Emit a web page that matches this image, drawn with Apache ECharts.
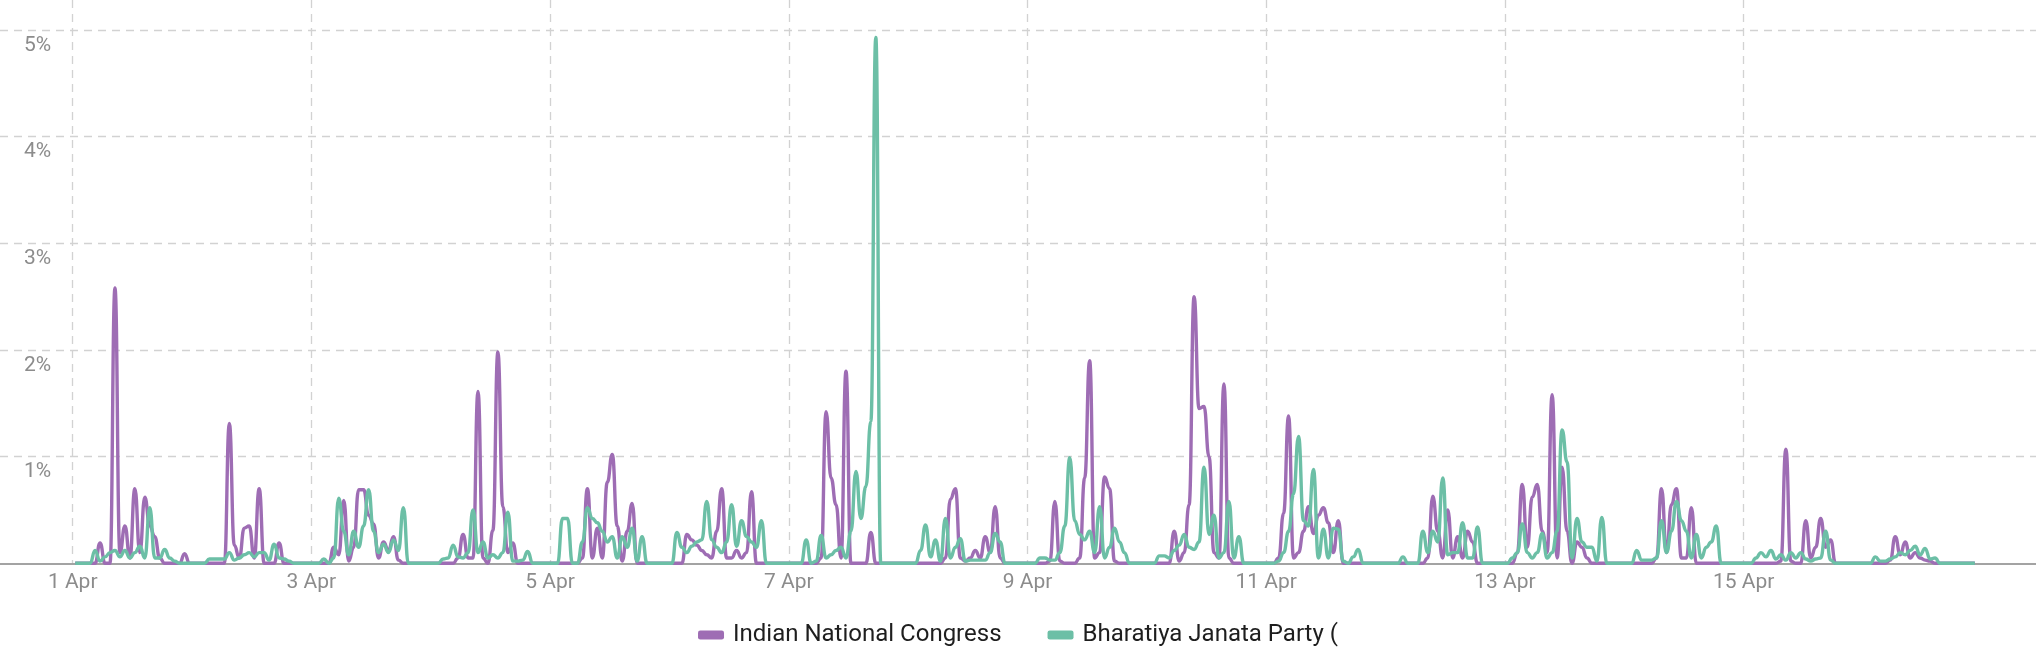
<!DOCTYPE html>
<html>
<head>
<meta charset="utf-8">
<script src="https://cdn.jsdelivr.net/npm/echarts@6/dist/echarts.min.js"></script>
<style>
html,body{margin:0;padding:0;background:#fff;}
#chart{width:2036px;height:649px;}
</style>
</head>
<body>
<div id="chart"></div>
<script>
// Series names (legend text as shown, truncated in the original)
const seriesNames = ['Indian National Congress', 'Bharatiya Janata Party ('];
// Tick days (April) shown on the x axis and y tick values (%)
const tickDays = [1, 3, 5, 7, 9, 11, 13, 15];
const yTicks = [1, 2, 3, 4, 5];

// Hourly share (%) — one line per day, 1 Apr .. 16 Apr
const incValues = [
  0,0,0,0,0,0.19,0,0,2.58,0.1,0.35,0.05,0.7,0.1,0.62,0.35,0.25,0.05,0,0,0,0,0.09,0,
  0,0,0,0,0,0,0,1.31,0.17,0.05,0.33,0.35,0.05,0.7,0,0,0,0.19,0,0,0,0,0,0,
  0,0,0,0,0.15,0.08,0.59,0.02,0.15,0.69,0.69,0.45,0.37,0.05,0.2,0.12,0.25,0.03,0,0,0,0,0,0,
  0,0,0,0,0,0.05,0.27,0.05,0.05,1.61,0.05,0,0.31,1.98,0.53,0.1,0.19,0,0,0,0,0,0,0,
  0,0,0,0,0,0,0.05,0.7,0.05,0.33,0.05,0.76,1.02,0.35,0.02,0.3,0.56,0,0,0,0,0,0,0,
  0,0,0,0.27,0.22,0.17,0.12,0.08,0.05,0.3,0.7,0.05,0.05,0.12,0.05,0.1,0.67,0,0,0,0,0,0,0,
  0,0,0,0,0,0,0.05,1.42,0.8,0.55,0.05,1.8,0,0,0,0,0.29,0,0,0,0,0,0,0,
  0,0,0,0,0,0,0,0.05,0.6,0.7,0.05,0.02,0.05,0.12,0.05,0.25,0.1,0.53,0.05,0,0,0,0,0,
  0,0,0,0,0.02,0.58,0.02,0,0,0,0.05,0.8,1.9,0.05,0.1,0.81,0.7,0.02,0,0,0,0,0,0,
  0,0,0,0,0,0.3,0.02,0.1,0.55,2.5,1.45,1.47,1.0,0.1,0.05,1.68,0.05,0,0,0,0,0,0,0,
  0,0,0.05,0.47,1.38,0.05,0.1,0.3,0.53,0.28,0.45,0.52,0.38,0.1,0.4,0,0,0,0,0,0,0,0,0,
  0,0,0,0,0,0,0,0,0.05,0.63,0.3,0.05,0.5,0.05,0.25,0.05,0.3,0.2,0,0,0,0,0,0,
  0,0,0.1,0.74,0.15,0.62,0.74,0.3,0.1,1.58,0.05,0.9,0.3,0,0.2,0.15,0.05,0,0,0,0,0,0,0,
  0,0,0,0,0,0,0.05,0.7,0.1,0.55,0.7,0.05,0.05,0.52,0,0,0,0,0,0,0,0,0,0,
  0,0,0,0,0,0,0,0.02,1.07,0.02,0,0,0.4,0.05,0.15,0.42,0.15,0.22,0,0,0,0,0,0,
  0,0,0,0,0,0.03,0.25,0.08,0.2,0.05,0.1,0.05,0.03,0.02,0,0,0,0,0,0,0,0,0
];
const bjpValues = [
  0,0,0,0,0.12,0.02,0.06,0.1,0.12,0.06,0.12,0.05,0.1,0.16,0.05,0.52,0.05,0.05,0.13,0.05,0.02,0,0,0,
  0,0,0,0.04,0.04,0.04,0.04,0.1,0.03,0.05,0.08,0.1,0.06,0.1,0.1,0.03,0.18,0.05,0.04,0.02,0,0,0,0,
  0,0,0.04,0,0.05,0.61,0.3,0.08,0.3,0.15,0.35,0.69,0.3,0.1,0.18,0.1,0.22,0.12,0.52,0,0,0,0,0,
  0,0,0.04,0.05,0.17,0.06,0.05,0.1,0.5,0.1,0.2,0.05,0.08,0.05,0.1,0.48,0.02,0.02,0.03,0.11,0,0,0,0,
  0,0,0.42,0.42,0,0,0.2,0.52,0.42,0.38,0.3,0.2,0.25,0.05,0.25,0.15,0.33,0.02,0.25,0,0,0,0,0,
  0,0.29,0.15,0.1,0.16,0.2,0.22,0.58,0.22,0.15,0.1,0.2,0.55,0.16,0.4,0.25,0.2,0.15,0.4,0,0,0,0,0,
  0,0,0,0.22,0,0.02,0.26,0.05,0.08,0.12,0.15,0.05,0.3,0.86,0.42,0.72,1.33,4.93,0,0,0,0,0,0,
  0,0,0.12,0.36,0.06,0.22,0.02,0.42,0.05,0.15,0.23,0.02,0.03,0.03,0.03,0.03,0.1,0.28,0.2,0,0,0,0,0,
  0,0,0.05,0.05,0.03,0.03,0.1,0.35,0.99,0.4,0.27,0.22,0.3,0.1,0.53,0.05,0.15,0.33,0.2,0.1,0,0,0,0,
  0,0,0.07,0.07,0.05,0.12,0.17,0.27,0.15,0.13,0.2,0.9,0.27,0.45,0.05,0.1,0.58,0.05,0.25,0,0,0,0,0,
  0,0,0.02,0.1,0.3,0.65,1.19,0.4,0.35,0.88,0.05,0.32,0.05,0.33,0.32,0.02,0,0.06,0.13,0,0,0,0,0,
  0,0,0,0.06,0,0,0,0.3,0.1,0.3,0.2,0.8,0.08,0.1,0.1,0.38,0.05,0.05,0.34,0,0,0,0,0,
  0,0.05,0.1,0.37,0.1,0.05,0.1,0.28,0.05,0.1,0.3,1.25,0.95,0.05,0.42,0.2,0.15,0.15,0.02,0.43,0,0,0,0,
  0,0,0.12,0.03,0.03,0.03,0.05,0.4,0.1,0.3,0.58,0.4,0.3,0.05,0.27,0.05,0.15,0.2,0.35,0,0,0,0,0,
  0,0,0.05,0.1,0.06,0.12,0.04,0.08,0.03,0.1,0.05,0.1,0.04,0.02,0.04,0.05,0.3,0.03,0,0,0,0,0,0,
  0,0,0.06,0.02,0.02,0.04,0.06,0.1,0.08,0.12,0.16,0.08,0.14,0.04,0.05,0,0,0,0,0,0,0,0
];

// Sample times: hours since 1 Apr 00:00 (each sample centred in its hour)
const sampleHours = incValues.map((_, i) => i + 0.5);
const tickHours = tickDays.map(d => (d - 1) * 24);

const colors = ['#9e6db4', '#6cbfa6'];
const chart = echarts.init(document.getElementById('chart'), null, {renderer: 'canvas'});
const gridStyle = {color: '#d2d2d2', width: 1.3, type: [8, 6]};

chart.setOption({
  animation: false,
  color: colors,
  textStyle: {fontFamily: 'Roboto'},
  grid: {left: 0, right: 0, top: 0, bottom: 85.7, containLabel: false},
  legend: {
    top: 621, left: 'center', padding: 0,
    itemWidth: 26, itemHeight: 9, itemGap: 46,
    icon: 'roundRect',
    textStyle: {fontFamily: 'Roboto', fontSize: 24, color: '#1e1e1e', lineHeight: 28, padding: [0, 0, 0, 4]},
    data: seriesNames
  },
  xAxis: {
    type: 'value',
    min: -14.62,
    max: 394.8,
    axisLine: {show: true, lineStyle: {color: '#a3a3a3', width: 2}},
    axisTick: {show: false, customValues: tickHours},
    splitLine: {show: true, lineStyle: gridStyle},
    axisLabel: {
      customValues: tickHours,
      formatter: v => (Math.round(v / 24) + 1) + ' Apr',
      color: '#8c8c8c', fontSize: 21, fontFamily: 'Roboto', margin: 9
    }
  },
  yAxis: {
    type: 'value',
    min: 0,
    max: 5.28,
    axisLine: {show: false},
    axisTick: {show: false, customValues: yTicks},
    splitLine: {show: true, lineStyle: gridStyle},
    axisLabel: {
      customValues: yTicks,
      inside: true,
      margin: 24,
      align: 'left',
      verticalAlign: 'top',
      padding: [5, 0, 0, 0],
      formatter: v => v + '%',
      color: '#8c8c8c', fontSize: 21, fontFamily: 'Roboto'
    }
  },
  series: [
    {
      name: seriesNames[0], type: 'line',
      data: incValues.map((v, i) => [sampleHours[i], v]),
      showSymbol: false, smooth: 0.5, smoothMonotone: 'x',
      lineStyle: {width: 3.4, color: colors[0]}, itemStyle: {color: colors[0]}
    },
    {
      name: seriesNames[1], type: 'line',
      data: bjpValues.map((v, i) => [sampleHours[i], v]),
      showSymbol: false, smooth: 0.5, smoothMonotone: 'x',
      lineStyle: {width: 3.4, color: colors[1]}, itemStyle: {color: colors[1]}
    }
  ]
});
</script>
</body>
</html>
